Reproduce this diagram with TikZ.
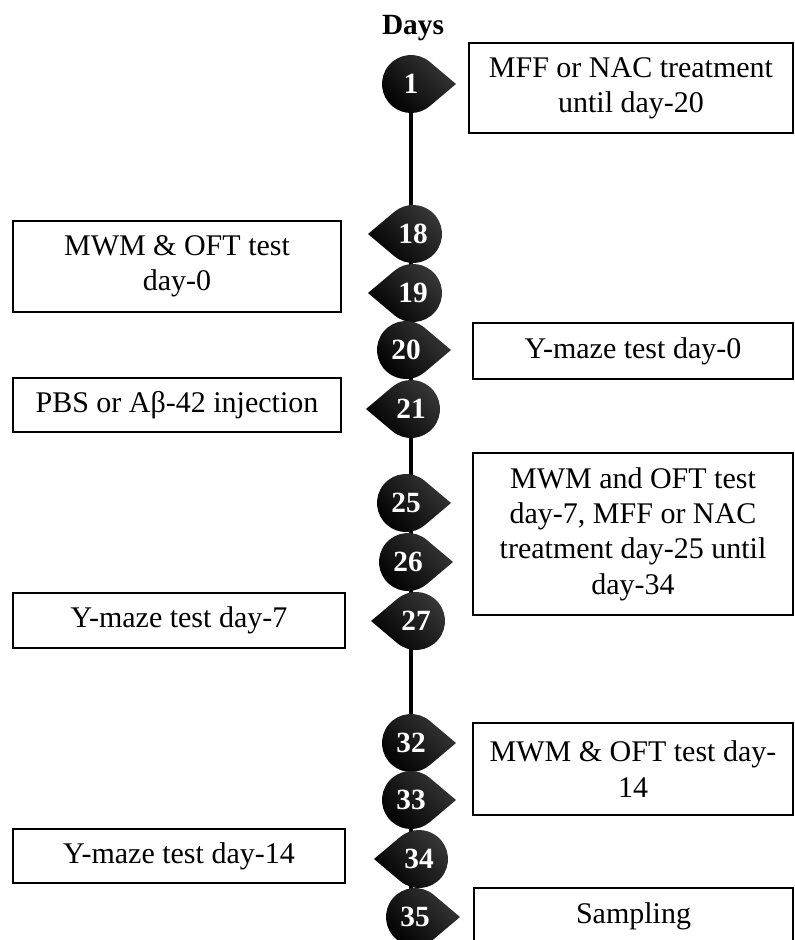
\documentclass[tikz,border=0pt]{standalone}
\usepackage{fontspec}
\setmainfont{Liberation Serif}
\usepackage{tikz}
\usetikzlibrary{backgrounds}

\begin{document}
\begin{tikzpicture}[
      x=0.75pt,y=-0.75pt,
      event/.style={rectangle,draw=black,line width=1.1pt,align=center,inner sep=0pt,font=\fontsize{22.5}{26.5}\selectfont},
      leftevent/.style={event,minimum width=246pt},
      rightevent/.style={event,minimum width=240pt},
      daynum/.style={circle,minimum size=43.5pt,inner sep=0pt,text=white,font=\fontsize{22}{24}\selectfont\bfseries},
      dropshade/.style={left color=black,middle color=black,right color=black!78,shading angle=135},
      timeline/.style={line width=3pt,black}
    ]
    \useasboundingbox (0,0) rectangle (794,940);
    \node[font=\fontsize{22}{24}\selectfont\bfseries] (days) at (413,28) {Days};
    % day markers: number / x / y / direction of the tip
    \foreach \n/\x/\y/\a in {1/411/84/0,18/413/234/180,19/413/293/180,20/406/350/0,
        21/411/409/180,25/406/503/0,26/408/562/0,27/416/621/180,
        32/411/743/0,33/411/800/0,34/419/859/180,35/415/917/0}{
      \begin{scope}[shift={(\x,\y)}]
        \shade[dropshade] ({\a}:33.75pt) -- ({\a+50}:21.75pt)
          arc[start angle=\a+50,end angle=\a+310,radius=21.75pt] -- cycle;
      \end{scope}
      \node[daynum] (d\n) at (\x,\y) {\n};
    }
    \begin{scope}[on background layer]
      \draw[timeline] (d1) -- (d1 |- d35);
    \end{scope}
    % events
    \node[rightevent,minimum width=243pt,minimum height=67.5pt] (e1) at (631,88) {MFF or NAC treatment\\until day-20};
    \node[leftevent,minimum height=68.25pt] (e18) at (177,266.5) {MWM \& OFT test\\day-0};
    \node[rightevent,minimum height=42pt] (e20) at (633,351) {Y-maze test day-0};
    \node[leftevent,minimum height=40.5pt] (e21) at (177,405) {PBS or Aβ-42 injection};
    \node[rightevent,minimum height=121.5pt] (e25) at (633,534) {MWM and OFT test\\day-7, MFF or NAC\\treatment day-25 until\\day-34};
    \node[leftevent,minimum width=249pt,minimum height=41.25pt] (e27) at (179,620.5) {Y-maze test day-7};
    \node[rightevent,minimum height=69pt] (e32) at (633,769) {MWM \& OFT test day-\\14};
    \node[leftevent,minimum width=249pt,minimum height=40.5pt] (e34) at (179,856) {Y-maze test day-14};
    \node[rightevent,minimum width=239pt,minimum height=42pt] (e35) at (633.5,916) {Sampling};
  \end{tikzpicture}
\end{document}
